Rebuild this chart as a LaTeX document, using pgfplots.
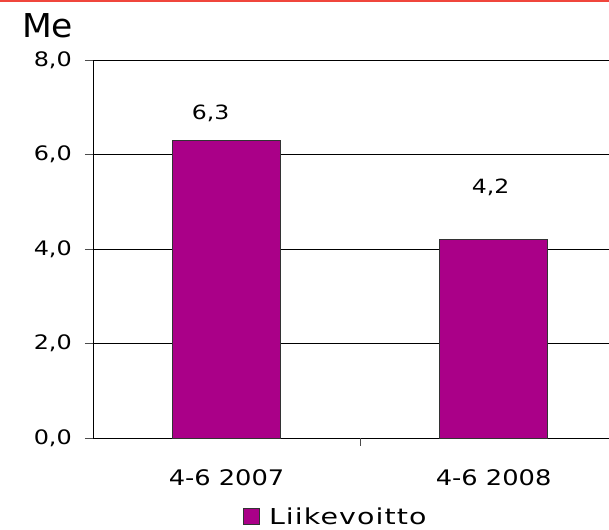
\documentclass[border=0pt]{standalone}
\usepackage{pgfplots}
\usepackage{pgfplotstable}
\pgfplotsset{compat=1.18}
\usepackage{fontspec}
\setmainfont{DejaVu Sans}[FakeStretch=1.2]
\newfontfamily\legfont{DejaVu Sans}[FakeStretch=1.3, LetterSpace=5]
\newfontfamily\titlefont{DejaVu Sans}[FakeStretch=1.05]
\definecolor{barc}{RGB}{170,0,136}
\definecolor{topred}{RGB}{240,70,60}

\pgfplotstableread{
x y off dx
0 6.3 21 -16
1 4.2 46 -3
}\data

\begin{document}
\begin{tikzpicture}
\useasboundingbox (0bp,0bp) rectangle (609bp,530bp);
\draw[topred, line width=2bp] (0bp,529bp) -- (609bp,529bp);
\begin{axis}[
  at={(93bp,92bp)}, anchor=south west,
  scale only axis, width=516bp, height=378bp,
  clip=false,
  ybar, bar width=107.5bp,
  xmin=-0.5, xmax=1.432,
  ymin=0, ymax=8,
  ytick={0,2,4,6,8},
  axis x line*=bottom, axis y line*=left,
  axis line style={black, line width=0.8bp},
  ymajorgrids, grid style={black, line width=0.8bp},
  ytick style={black!70, line width=0.8bp},
  major tick length=8bp, tick align=outside,
  xtick={0,1}, xticklabels={4-6 2007,4-6 2008},
  xtick style={draw=none},
  extra x ticks={0.5}, extra x tick labels={},
  extra x tick style={xtick style={draw=black!70, line width=0.8bp}, grid=none},
  /pgf/number format/.cd, fixed, fixed zerofill, precision=1, use comma, assume math mode=true, /pgfplots/.cd,
  ticklabel style={font=\fontsize{20}{24}\selectfont},
  yticklabel style={anchor=east, inner sep=0pt, xshift=-13bp},
  xticklabel style={font=\fontsize{21.5}{24}\selectfont, yshift=-20bp},
  nodes near coords,
  visualization depends on={\thisrow{off} \as \off},
  visualization depends on={\thisrow{dx} \as \dx},
  every node near coord/.append style={anchor=base, inner sep=0pt, yshift=\off bp, xshift=\dx bp, font=\fontsize{19.7}{24}\selectfont, black},
  legend style={draw=none, at={(0.2907,-0.208)}, anchor=west, font=\legfont\fontsize{22}{26}\selectfont,
    inner sep=0pt, nodes={inner sep=0pt, text depth=0pt},
    /tikz/every odd column/.append style={column sep=9bp}},
  legend image code/.code={\draw[#1, draw=black!80, line width=0.8bp] (0bp,-8bp) rectangle (16bp,8bp);},
]
\addplot[fill=barc, draw=black!80, line width=0.8bp] table[x=x, y=y] {\data};
\legend{Liikevoitto}
\node[anchor=base west, inner sep=0pt, font=\titlefont\fontsize{33}{36}\selectfont] at ([xshift=-71bp, yshift=23bp]rel axis cs:0,1) {Me};
\end{axis}
\end{tikzpicture}
\end{document}
